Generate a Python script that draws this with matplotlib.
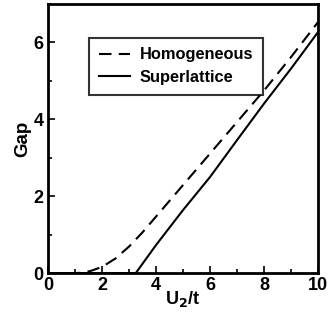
import matplotlib
matplotlib.use("Agg")
import matplotlib.pyplot as plt
from matplotlib.ticker import MultipleLocator

# data
u_hom = [0, 1.0, 1.3, 1.6, 2.0, 2.5, 3.0, 3.5, 4.0, 5.0, 6.0, 7.0, 8.0, 9.0, 10.0]
gap_hom = [0, 0, 0.01, 0.06, 0.16, 0.38, 0.69, 1.06, 1.47, 2.29, 3.11, 3.93, 4.75, 5.62, 6.53]

u_sup = [0, 3.25, 4.0, 5.0, 6.0, 7.0, 8.0, 9.0, 10.0]
gap_sup = [0, 0, 0.73, 1.64, 2.5, 3.46, 4.41, 5.32, 6.27]

plt.rcParams['font.family'] = ['Liberation Sans', 'DejaVu Sans']
plt.rcParams['font.weight'] = 'bold'

fig = plt.figure(figsize=(3.29, 3.22), dpi=100)
ax = fig.add_axes([0.146, 0.152, 0.821, 0.836])

ax.plot(u_hom, gap_hom, color='black', lw=1.5, ls=(0, (6, 3.5)), label='Homogeneous')
ax.plot(u_sup, gap_sup, color='black', lw=1.5, label='Superlattice')

ax.set_xlim(0, 10)
ax.set_ylim(0, 7)
ax.xaxis.set_major_locator(MultipleLocator(2))
ax.xaxis.set_minor_locator(MultipleLocator(1))
ax.yaxis.set_major_locator(MultipleLocator(2))
ax.yaxis.set_minor_locator(MultipleLocator(1))
ax.tick_params(which='both', direction='in', labelsize=13, width=1.2)
ax.tick_params(which='major', length=5)
ax.tick_params(which='minor', length=3)
ax.tick_params(axis='x', pad=3)
ax.tick_params(axis='y', pad=3)
for sp in ax.spines.values():
    sp.set_linewidth(2)

ax.set_xlabel('U$_\\mathbf{2}$/t', fontsize=13, fontweight='bold', labelpad=-4)
ax.set_ylabel('Gap', fontsize=13.5, fontweight='bold', labelpad=2)

leg = ax.legend(loc='upper left', bbox_to_anchor=(0.152, 0.875), fontsize=11.8,
                frameon=True, fancybox=False, edgecolor='black', handlelength=1.9,
                handletextpad=0.6, borderpad=0.6, labelspacing=0.45,
                borderaxespad=0)
leg.get_frame().set_linewidth(1.5)

fig.savefig('out.png', dpi=100)
